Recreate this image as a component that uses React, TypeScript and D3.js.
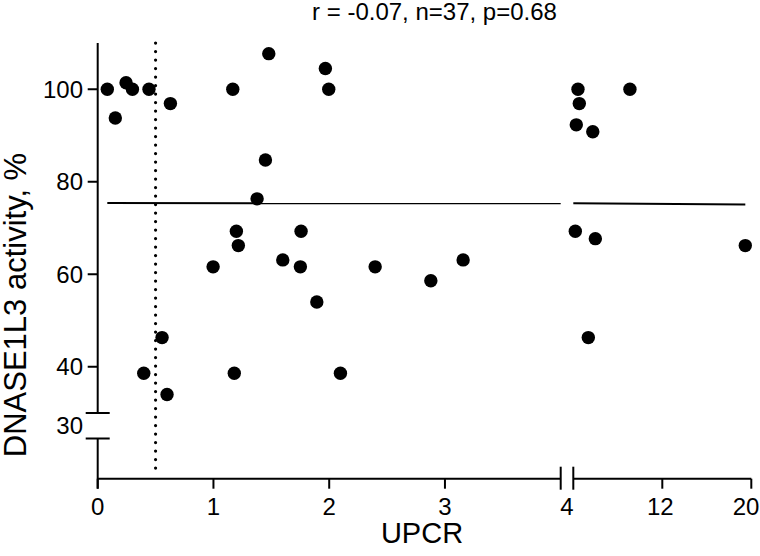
import { line, scaleLinear, min, max } from "d3";

const WIDTH = 760;
const HEIGHT = 556;

// UPCR (x) and DNASE1L3 activity % (y)
const upcr = [
  0.083, 0.152, 0.245, 0.3, 0.443, 0.628, 1.167, 1.478, 1.449, 1.377, 1.198, 1.215,
  0.997, 1.599, 1.751, 1.757, 1.967, 1.996, 2.397, 4.42, 4.54, 4.27, 5.75, 9.09,
  4.18, 5.98, 19.46, 3.157, 2.878, 1.893, 0.556, 0.398, 0.599, 1.18, 2.097, 5.35,
];
const activity = [
  100, 93.8, 101.4, 100, 100, 96.9, 100, 107.7, 84.7, 76.3, 69.3, 66.2,
  61.6, 63.1, 61.6, 69.3, 104.5, 100, 61.6, 100, 96.9, 92.3, 90.8, 100,
  69.3, 67.7, 66.2, 63.1, 58.6, 54.0, 46.3, 38.6, 34.0, 38.6, 38.6, 46.3,
];

const xTicksLeft = [0, 1, 2, 3];
const xTicksRight = [12, 20];
const yTicks = [40, 60, 80, 100];
const cutoff = 0.5;
const fitIntercept = 75.4;
const fitSlope = -0.0175;
const title = "r = -0.07, n=37, p=0.68";

const FONT = "'Liberation Sans', Arial, Helvetica, sans-serif";

export default function App() {
  const xLeft = scaleLinear().domain([0, 4]).range([97.7, 560.7]);
  const xRight = scaleLinear().domain([4, 20]).range([573.3, 751.3]);
  const yUpper = scaleLinear().domain([30, 110]).range([413, 43]);
  const yLower = scaleLinear().domain([0, 30]).range([478.7, 438.5]);
  const xPos = (v: number) => (v <= 4 ? xLeft(v) : xRight(v));

  const axisY = yLower(0);
  const tickLen = 10;
  const fit = (x: number) => fitIntercept + fitSlope * x;
  const xMin = min(upcr) ?? 0;
  const xMax = max(upcr) ?? 20;
  const fitLeft = line<number>().x((d) => xLeft(d)).y((d) => yUpper(fit(d)))([xMin, 4]);
  const fitRight = line<number>().x((d) => xRight(d)).y((d) => yUpper(fit(d)))([4, xMax]);

  return (
    <svg
      width={WIDTH}
      height={HEIGHT}
      viewBox={`0 0 ${WIDTH} ${HEIGHT}`}
      style={{ position: "absolute", left: 0, top: 0, background: "#fff" }}
      fontFamily={FONT}
    >
      <text x={434.5} y={19.5} textAnchor="middle" fontSize={24}>{title}</text>

      {/* y axis, broken at 30 */}
      <g stroke="#000" strokeWidth={2}>
        <line x1={xLeft(0)} x2={xLeft(0)} y1={yUpper(110)} y2={yUpper(30)} />
        <line x1={xLeft(0) - 12} x2={xLeft(0) + 12} y1={yUpper(30)} y2={yUpper(30)} />
        <line x1={xLeft(0) - 12} x2={xLeft(0) + 12} y1={yLower(30)} y2={yLower(30)} />
        <line x1={xLeft(0)} x2={xLeft(0)} y1={yLower(30)} y2={axisY + tickLen} />
        {yTicks.map((t) => (
          <line key={t} x1={xLeft(0) - tickLen} x2={xLeft(0)} y1={yUpper(t)} y2={yUpper(t)} />
        ))}
      </g>
      <g fontSize={24} textAnchor="end">
        {yTicks.map((t) => (
          <text key={t} x={83} y={yUpper(t)} dy="0.36em">{t}</text>
        ))}
        <text x={83} y={(yUpper(30) + yLower(30)) / 2} dy="0.36em">30</text>
      </g>

      {/* x axis, broken at 4 */}
      <g stroke="#000" strokeWidth={2}>
        <line x1={xLeft(0)} x2={xLeft(4)} y1={axisY} y2={axisY} />
        <line x1={xRight(4)} x2={xRight(20)} y1={axisY} y2={axisY} />
        <line x1={xLeft(4)} x2={xLeft(4)} y1={axisY - 12} y2={axisY + 11} />
        <line x1={xRight(4)} x2={xRight(4)} y1={axisY - 12} y2={axisY + 11} />
        {xTicksLeft.map((t) => (
          <line key={t} x1={xLeft(t)} x2={xLeft(t)} y1={axisY} y2={axisY + tickLen} />
        ))}
        {xTicksRight.map((t) => (
          <line key={t} x1={xRight(t)} x2={xRight(t)} y1={axisY} y2={axisY + tickLen} />
        ))}
      </g>
      <g fontSize={24} textAnchor="middle">
        {xTicksLeft.map((t) => (
          <text key={t} x={xLeft(t)} y={515}>{t}</text>
        ))}
        <text x={(xLeft(4) + xRight(4)) / 2} y={515}>4</text>
        {xTicksRight.map((t) => (
          <text key={t} x={Math.min(xRight(t) - 2, 746)} y={515}>{t}</text>
        ))}
      </g>

      <text x={422} y={543} textAnchor="middle" fontSize={29}>UPCR</text>
      <text
        transform={`translate(26, 305) rotate(-90)`}
        textAnchor="middle"
        fontSize={31}
      >
        DNASE1L3 activity, %
      </text>

      {/* cutoff and fit */}
      <line
        x1={xLeft(cutoff)}
        x2={xLeft(cutoff)}
        y1={yUpper(110)}
        y2={axisY - 6}
        stroke="#000"
        strokeWidth={3.2}
        strokeDasharray="0.1 8.4"
        strokeLinecap="round"
      />
      {fitLeft ? <path d={fitLeft} fill="none" stroke="#000" strokeWidth={2} /> : null}
      {fitRight ? <path d={fitRight} fill="none" stroke="#000" strokeWidth={2} /> : null}

      {upcr.map((x, i) => (
        <circle key={i} cx={xPos(x)} cy={yUpper(activity[i])} r={6.7} fill="#000" />
      ))}
    </svg>
  );
}
